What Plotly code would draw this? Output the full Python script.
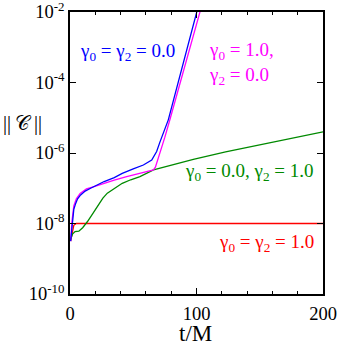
import plotly.graph_objects as go

# t/M sample points and ||C|| values
t_blue = [0.5, 1.8, 3, 4.5, 6, 8.4, 12, 16.3, 22, 27, 35, 41.3, 50, 58, 64.6, 68.5, 71, 73.8, 77.7, 100.2, 101]
c_blue = [3.16e-9, 1.26e-8, 2.51e-8, 3.72e-8, 5.01e-8, 6.46e-8, 8.32e-8, 1.0e-7, 1.26e-7, 1.55e-7,
          2.0e-7, 2.63e-7, 3.55e-7, 4.57e-7, 6.31e-7, 1.10e-6, 2.0e-6, 3.63e-6, 8.71e-6, 1.0e-2, 1.26e-2]

t_mag = [0.5, 1.5, 3, 5, 8, 13, 18.4, 26.3, 35, 44.8, 55, 66, 67.5, 71.1, 75, 79, 102.8, 103.5]
c_mag = [3.16e-9, 1.12e-8, 3.16e-8, 5.01e-8, 7.08e-8, 9.55e-8, 1.10e-7, 1.38e-7, 1.70e-7, 2.14e-7,
         2.69e-7, 3.31e-7, 3.98e-7, 9.77e-7, 2.82e-6, 8.91e-6, 1.0e-2, 1.26e-2]

t_green = [0.5, 2, 4, 7, 10, 13.7, 18, 21.6, 26, 29.5, 35, 41.3, 48, 55.3, 66, 80, 97.5, 123, 150, 175, 200]
c_green = [3.55e-9, 5.01e-9, 5.89e-9, 6.03e-9, 7.59e-9, 1.12e-8, 1.91e-8, 3.02e-8, 5.25e-8, 7.24e-8,
           1.0e-7, 1.38e-7, 1.74e-7, 2.14e-7, 3.31e-7, 4.57e-7, 6.61e-7, 1.07e-6, 1.70e-6, 2.63e-6, 3.98e-6]

t_red = [0.5, 1.5, 3, 5, 200]
c_red = [3.16e-9, 5.01e-9, 8.91e-9, 1.0e-8, 1.0e-8]

y_ticks = [1e-10, 1e-8, 1e-6, 1e-4, 1e-2]
y_ticktext = ["10<sup>-10</sup>", "10<sup>-8</sup>", "10<sup>-6</sup>", "10<sup>-4</sup>", "10<sup>-2</sup>"]

serif = "Times New Roman"

fig = go.Figure()
for t, c, col in [(t_red, c_red, "#ff0000"), (t_green, c_green, "#008a00"),
                  (t_mag, c_mag, "#ff00ff"), (t_blue, c_blue, "#0000ff")]:
    fig.add_trace(go.Scatter(x=t, y=c, mode="lines", line=dict(color=col, width=1.3),
                             showlegend=False, cliponaxis=True))

labels = [
    (6.0, -3.13, "γ<sub>0</sub> = γ<sub>2</sub> = 0.0", "#0000ff"),
    (108.0, -3.45, "γ<sub>0</sub> = 1.0,<br>γ<sub>2</sub> = 0.0", "#ff00ff"),
    (89.5, -6.54, "γ<sub>0</sub> = 0.0, γ<sub>2</sub> = 1.0", "#008a00"),
    (116.0, -8.55, "γ<sub>0</sub> = γ<sub>2</sub> = 1.0", "#ff0000"),
]
for x, y, txt, col in labels:
    fig.add_annotation(x=x, y=y, xref="x", yref="y", text=txt, showarrow=False,
                       xanchor="left", yanchor="middle", align="left",
                       font=dict(family=serif, size=19, color=col))

fig.add_annotation(x=0.496, y=-0.14, xref="paper", yref="paper", text="t/M", showarrow=False,
                   xanchor="center", yanchor="middle", font=dict(family=serif, size=23, color="black"))
fig.add_annotation(x=-0.186, y=0.603, xref="paper", yref="paper", text="||\u2009𝒞\u2009||", showarrow=False,
                   xanchor="center", yanchor="middle", font=dict(family=serif, size=20, color="black"))

fig.update_layout(
    width=339, height=345,
    margin=dict(l=70, r=16, t=12, b=51),
    plot_bgcolor="white", paper_bgcolor="white",
    font=dict(family=serif, size=18, color="black"),
)
fig.update_xaxes(range=[0, 200], tickvals=[0, 100, 200], ticks="inside", ticklen=6,
                 tickwidth=1.2, tickcolor="black", automargin=False, ticklabeloverflow="allow",
                 ticklabelstandoff=2,
                 minor=dict(dtick=20, ticks="inside", ticklen=3, tickcolor="black", tickwidth=1),
                 showline=True, linecolor="black", linewidth=1.5, mirror="ticks",
                 showgrid=False, zeroline=False, tickfont=dict(family=serif, size=18.5))
fig.update_yaxes(type="log", range=[-10, -2], tickvals=y_ticks, ticktext=y_ticktext,
                 ticks="inside", ticklen=6, tickwidth=1.2, tickcolor="black", automargin=False,
                 ticklabeloverflow="allow",
                 showline=True, linecolor="black", linewidth=1.5, mirror="ticks",
                 showgrid=False, zeroline=False, tickfont=dict(family=serif, size=18.5))

# drop the page's default body margin so the figure sits at the window's corner
fig.write_html("out.html", config={"displayModeBar": False},
               post_script="document.body.style.margin='0';")
